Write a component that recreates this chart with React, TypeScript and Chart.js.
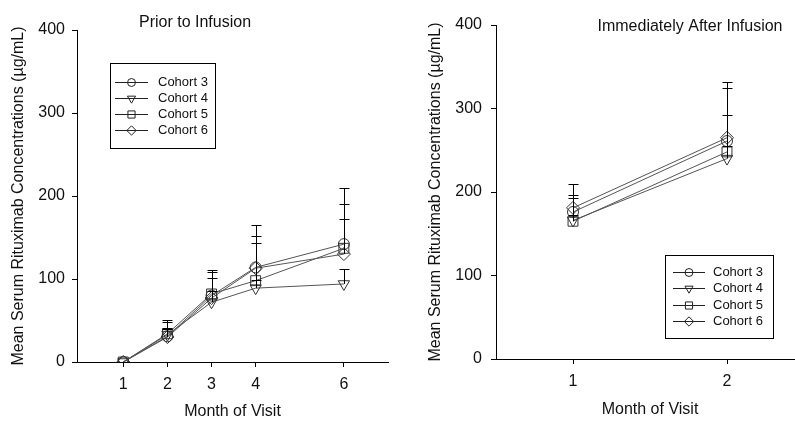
import React, { useEffect, useRef } from 'react';
import { Chart, registerables } from 'chart.js';

Chart.register(...registerables);

// ---------------- data ----------------
const COHORTS = ['Cohort 3', 'Cohort 4', 'Cohort 5', 'Cohort 6'];
const POINT_STYLES = ['circle', 'triangle', 'rect', 'rectRot'];
const Y_TICKS = [0, 100, 200, 300, 400];

// Prior to infusion
const PRIOR_MONTHS = [1, 2, 3, 4, 6];
const PRIOR_X_TICKS = [1, 2, 3, 4, 6];
const PRIOR_C3 = [0, 31, 80, 114, 142];
const PRIOR_C4 = [0, 33, 72, 89, 94];
const PRIOR_C5 = [0, 34, 82, 98, 137];
const PRIOR_C6 = [0, 30, 77, 113, 130];
const PRIOR_C3_SD = [0, 20, 31, 51, 68];
const PRIOR_C4_SD = [0, 8, 14, 10, 18];
const PRIOR_C5_SD = [0, 14, 26, 45, 53];
const PRIOR_C6_SD = [0, 10, 24, 39, 42];

// Immediately after infusion
const AFTER_MONTHS = [1, 2];
const AFTER_X_TICKS = [1, 2];
const AFTER_C3 = [176, 261];
const AFTER_C4 = [166, 240];
const AFTER_C5 = [165, 248];
const AFTER_C6 = [181, 265];
const AFTER_C3_SD = [21, 63];
const AFTER_C4_SD = [27, 15];
const AFTER_C5_SD = [8, 44];
const AFTER_C6_SD = [28, 67];

// ---------------- styling ----------------
const FONT = 'Arial, "Liberation Sans", sans-serif';
const TEXT = '#111';
const LINE_COLOR = '#555';
const MARKER_COLOR = '#333';
const POINT_RADII = [5.5, 6.5, 7, 6.5];
const POINT_ROT = [0, 180, 0, 0];

Chart.defaults.font.family = FONT;
Chart.defaults.color = TEXT;

function drawMarker(ctx: CanvasRenderingContext2D, style: string, x: number, y: number, r: number) {
  ctx.beginPath();
  if (style === 'circle') {
    ctx.arc(x, y, r, 0, Math.PI * 2);
  } else if (style === 'triangle') {
    const s = Math.sin(Math.PI / 3) * r;
    ctx.moveTo(x, y + r);
    ctx.lineTo(x - s, y - r / 2);
    ctx.lineTo(x + s, y - r / 2);
    ctx.closePath();
  } else if (style === 'rect') {
    const s = r * Math.SQRT1_2;
    ctx.rect(x - s, y - s, 2 * s, 2 * s);
  } else {
    ctx.moveTo(x, y - r);
    ctx.lineTo(x + r, y);
    ctx.lineTo(x, y + r);
    ctx.lineTo(x - r, y);
    ctx.closePath();
  }
  ctx.stroke();
}

type Panel = {
  months: number[];
  xTicks: number[];
  values: number[][];
  sds: number[][];
  xMin: number;
  xMax: number;
  title: string;
  titleX: number;
  titleY: number;
  yAxisWidth: number;
  xAxisHeight: number;
  padTop: number;
  padRight: number;
  yTickPad: number;
  yTitlePad: number;
  xTitlePad: number;
  legend: { left: number; top: number; right: number; bottom: number; lineX0: number; lineX1: number; textX: number; rowY0: number; rowStep: number };
};

function buildConfig(p: Panel): any {
  const datasets = COHORTS.map((name, i) => ({
    label: name,
    data: p.months.map((m, j) => ({ x: m, y: p.values[i][j] })),
    borderColor: LINE_COLOR,
    borderWidth: 1,
    pointStyle: POINT_STYLES[i],
    pointRotation: POINT_ROT[i],
    pointRadius: POINT_RADII[i],
    pointBorderColor: MARKER_COLOR,
    pointBackgroundColor: 'rgba(0,0,0,0)',
    pointBorderWidth: 1,
    fill: false,
    tension: 0,
  }));

  const overlay = {
    id: 'overlay',
    afterDatasetsDraw(chart: any) {
      const { ctx, scales } = chart;
      const xs = scales.x, ys = scales.y;
      ctx.save();
      ctx.strokeStyle = '#000';
      ctx.lineWidth = 1;
      chart.data.datasets.forEach((ds: any, i: number) => {
        ds.data.forEach((pt: any, j: number) => {
          const sd = p.sds[i][j];
          if (!sd) return;
          const px = Math.round(xs.getPixelForValue(pt.x)) + 0.5;
          const y0 = ys.getPixelForValue(pt.y);
          const y1 = Math.round(ys.getPixelForValue(pt.y + sd)) + 0.5;
          ctx.beginPath();
          ctx.moveTo(px, y0);
          ctx.lineTo(px, y1);
          ctx.moveTo(px - 5, y1);
          ctx.lineTo(px + 5, y1);
          ctx.stroke();
        });
      });
      ctx.restore();
    },
    afterDraw(chart: any) {
      const { ctx } = chart;
      ctx.save();
      // title
      ctx.fillStyle = TEXT;
      ctx.font = `16px ${FONT}`;
      ctx.textAlign = 'center';
      ctx.textBaseline = 'middle';
      ctx.fillText(p.title, p.titleX, p.titleY);
      // legend
      const L = p.legend;
      ctx.strokeStyle = '#000';
      ctx.lineWidth = 1;
      ctx.strokeRect(L.left + 0.5, L.top + 0.5, L.right - L.left, L.bottom - L.top);
      ctx.font = `13px ${FONT}`;
      ctx.textAlign = 'left';
      COHORTS.forEach((name, i) => {
        const yy = Math.round(L.rowY0 + i * L.rowStep) + 0.5;
        ctx.strokeStyle = '#222';
        ctx.beginPath();
        ctx.moveTo(L.lineX0, yy);
        ctx.lineTo(L.lineX1, yy);
        ctx.stroke();
        drawMarker(ctx, POINT_STYLES[i], (L.lineX0 + L.lineX1) / 2, yy, POINT_RADII[i] * 0.72);
        ctx.fillStyle = TEXT;
        ctx.fillText(name, L.textX, yy);
      });
      ctx.restore();
    },
  };

  return {
    type: 'line',
    data: { datasets },
    plugins: [overlay],
    options: {
      responsive: false,
      animation: false,
      events: [],
      layout: { padding: { top: p.padTop, right: p.padRight, left: 0, bottom: 0 } },
      plugins: { legend: { display: false }, tooltip: { enabled: false }, title: { display: false } },
      scales: {
        x: {
          type: 'linear',
          min: p.xMin,
          max: p.xMax,
          afterBuildTicks: (s: any) => { s.ticks = p.xTicks.map((v) => ({ value: v })); },
          afterFit: (s: any) => { s.height = p.xAxisHeight; },
          grid: { drawOnChartArea: false, drawTicks: true, tickLength: 5, color: '#000', lineWidth: 1 },
          border: { display: true, color: '#000', width: 1 },
          ticks: { padding: 8, color: TEXT, font: { size: 16 }, callback: (v: any) => String(v) },
          title: { display: true, text: 'Month of Visit', color: TEXT, font: { size: 16 }, padding: { top: 0, bottom: p.xTitlePad } },
        },
        y: {
          type: 'linear',
          min: 0,
          max: 400,
          afterBuildTicks: (s: any) => { s.ticks = Y_TICKS.map((v) => ({ value: v })); },
          afterFit: (s: any) => { s.width = p.yAxisWidth; },
          grid: { drawOnChartArea: false, drawTicks: true, tickLength: 5, color: '#000', lineWidth: 1 },
          border: { display: true, color: '#000', width: 1 },
          ticks: { padding: p.yTickPad, color: TEXT, font: { size: 16 }, callback: (v: any) => String(v) },
          title: { display: true, text: 'Mean Serum Rituximab Concentrations (µg/mL)', color: TEXT, font: { size: 16 }, padding: { top: p.yTitlePad, bottom: 0 } },
        },
      },
    },
  };
}

const PRIOR_PANEL: Panel = {
  months: PRIOR_MONTHS,
  xTicks: PRIOR_X_TICKS,
  values: [PRIOR_C3, PRIOR_C4, PRIOR_C5, PRIOR_C6],
  sds: [PRIOR_C3_SD, PRIOR_C4_SD, PRIOR_C5_SD, PRIOR_C6_SD],
  xMin: -0.05,
  xMax: 7,
  title: 'Prior to Infusion',
  titleX: 195,
  titleY: 23,
  yAxisWidth: 77,
  xAxisHeight: 59,
  padTop: 30,
  padRight: 12,
  yTickPad: 7,
  yTitlePad: 9,
  xTitlePad: 0,
  legend: { left: 110, top: 63, right: 215, bottom: 148, lineX0: 115, lineX1: 148, textX: 158, rowY0: 81.5, rowStep: 16 },
};

const AFTER_PANEL: Panel = {
  months: AFTER_MONTHS,
  xTicks: AFTER_X_TICKS,
  values: [AFTER_C3, AFTER_C4, AFTER_C5, AFTER_C6],
  sds: [AFTER_C3_SD, AFTER_C4_SD, AFTER_C5_SD, AFTER_C6_SD],
  xMin: 0.5,
  xMax: 2.5,
  title: 'Immediately After Infusion',
  titleX: 290,
  titleY: 27,
  yAxisWidth: 96,
  xAxisHeight: 62,
  padTop: 25,
  padRight: 6,
  yTickPad: 9,
  yTitlePad: 26,
  xTitlePad: 2,
  legend: { left: 265, top: 255, right: 373, bottom: 338, lineX0: 273, lineX1: 305, textX: 313, rowY0: 271.5, rowStep: 16.5 },
};

function ChartCanvas({ panel, width, height }: { panel: Panel; width: number; height: number }) {
  const ref = useRef<HTMLCanvasElement>(null);
  useEffect(() => {
    const chart = new Chart(ref.current as HTMLCanvasElement, buildConfig(panel));
    return () => chart.destroy();
  }, [panel]);
  return <canvas ref={ref} width={width} height={height} style={{ display: 'block', width, height }} />;
}

export default function App() {
  return (
    <div style={{ position: 'fixed', left: 0, top: 0, width: 795, height: 421, background: '#fff', overflow: 'hidden' }}>
      <div style={{ position: 'absolute', left: 0, top: 0, width: 400, height: 421 }}>
        <ChartCanvas panel={PRIOR_PANEL} width={400} height={421} />
      </div>
      <div style={{ position: 'absolute', left: 400, top: 0, width: 395, height: 421, overflow: 'hidden' }}>
        <ChartCanvas panel={AFTER_PANEL} width={412} height={421} />
      </div>
    </div>
  );
}
